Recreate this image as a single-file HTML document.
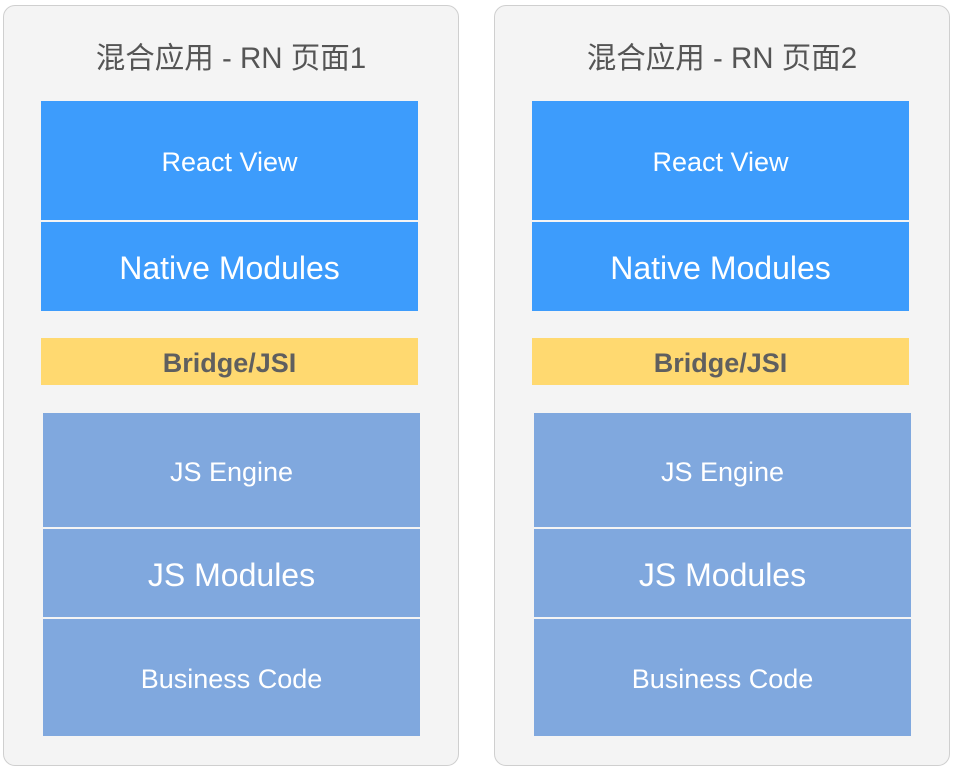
<!DOCTYPE html>
<html><head><meta charset="utf-8"><style>
body{margin:0;width:954px;height:770px;background:#fff;position:relative;overflow:hidden;font-family:"Liberation Sans","Noto Sans CJK SC",sans-serif}
.p{position:absolute;top:5px;width:456px;height:761px;border:1.5px solid #cfcfcf;border-radius:12px;background:#f4f4f4;box-sizing:border-box}
.t{position:absolute;top:42px;width:456px;text-align:center;font-size:29.5px;color:#555;line-height:34px}
.b{position:absolute;display:flex;align-items:center;justify-content:center;color:#fff;width:377px;padding-top:4px;box-sizing:border-box}
.bl{background:#3d9cfc}.lb{background:#80a8de}
.y{background:#ffd970;color:#5f5f5f;font-weight:bold;font-size:27px}
</style></head><body>
<div class="p" style="left:3px"></div>
<div class="p" style="left:494px"></div>
<div class="t" style="left:3px">混合应用 - RN 页面1</div>
<div class="t" style="left:494px">混合应用 - RN 页面2</div>

<div class="b bl" style="left:41px;top:101px;height:119px;font-size:27px">React View</div>
<div class="b bl" style="left:41px;top:222px;height:89px;font-size:32px">Native Modules</div>
<div class="b y" style="left:41px;top:338px;height:47px">Bridge/JSI</div>
<div class="b lb" style="left:43px;top:413px;height:114px;font-size:27px">JS Engine</div>
<div class="b lb" style="left:43px;top:529px;height:88px;font-size:32px">JS Modules</div>
<div class="b lb" style="left:43px;top:619px;height:117px;font-size:27px">Business Code</div>

<div class="b bl" style="left:532px;top:101px;height:119px;font-size:27px">React View</div>
<div class="b bl" style="left:532px;top:222px;height:89px;font-size:32px">Native Modules</div>
<div class="b y" style="left:532px;top:338px;height:47px">Bridge/JSI</div>
<div class="b lb" style="left:534px;top:413px;height:114px;font-size:27px">JS Engine</div>
<div class="b lb" style="left:534px;top:529px;height:88px;font-size:32px">JS Modules</div>
<div class="b lb" style="left:534px;top:619px;height:117px;font-size:27px">Business Code</div>
</body></html>
